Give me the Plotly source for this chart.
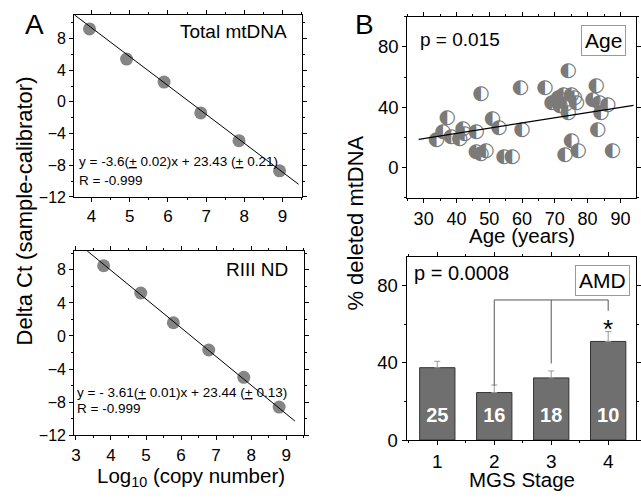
import plotly.graph_objects as go

W, H = 641, 500
FONT = "Liberation Sans, Arial, sans-serif"

# ---- Panel A top: Total mtDNA standard curve
a1_logcopy = [3.95, 4.92, 5.90, 6.86, 7.86, 8.92]
a1_delta = [9.2, 5.4, 2.5, -1.4, -4.9, -8.7]
a1_fit_x = [3.55, 9.42]
a1_fit_y = [11.0, -10.4]

# ---- Panel A bottom: RIII ND standard curve
a2_logcopy = [3.79, 4.85, 5.78, 6.79, 7.79, 8.80]
a2_delta = [8.5, 5.2, 1.6, -1.7, -5.0, -8.6]
a2_fit_x = [3.32, 9.25]
a2_fit_y = [10.3, -10.3]

# ---- Panel B top: % deleted mtDNA vs age
age = [33.9, 35.9, 37.2, 38.4, 41.0, 42.0, 42.5, 46.0, 47.5, 46.0, 47.5, 49.0,
       51.0, 53.0, 54.5, 57.0, 59.5, 60.0, 67.0, 74.1, 69.1, 71.1, 72.6, 75.1,
       76.6, 74.1, 71.6, 70.5, 73.5, 76.0, 75.1, 73.1, 77.1, 82.6, 81.6, 83.6,
       86.1, 84.1, 83.1, 87.6]
deleted = [18.6, 23.4, 33.1, 20.1, 19.0, 25.5, 22.3, 23.4, 48.5, 10.4, 9.0, 10.8,
           32.0, 26.6, 7.1, 7.1, 52.6, 25.1, 52.6, 64.0, 42.9, 46.1, 48.2, 48.2,
           42.9, 36.4, 40.7, 44.0, 42.0, 46.0, 18.0, 8.2, 10.8, 54.4, 45.0, 42.9,
           41.8, 36.4, 24.9, 10.8]
age_fit_x = [28.5, 94.0]
age_fit_y = [18.8, 41.3]

# ---- Panel B bottom: AMD stage bars
stage = [1, 2, 3, 4]
stage_mean = [37.5, 24.6, 32.2, 51.1]
stage_err = [3.3, 3.9, 3.6, 5.1]
stage_n = ["25", "16", "18", "10"]
bracket_x = [2, 2, 4, 4]
bracket_y = [28.2, 72.6, 72.6, 67.0]
bracket_mid_x = [3, 3]
bracket_mid_y = [39.7, 72.6]

fig = go.Figure()

dot = dict(size=13, color="#858585")
fig.add_trace(go.Scatter(x=a1_logcopy, y=a1_delta, mode="markers", marker=dot,
                         xaxis="x", yaxis="y", showlegend=False))
fig.add_trace(go.Scatter(x=a1_fit_x, y=a1_fit_y, mode="lines",
                         line=dict(color="black", width=1), xaxis="x", yaxis="y",
                         showlegend=False))
fig.add_trace(go.Scatter(x=a2_logcopy, y=a2_delta, mode="markers", marker=dot,
                         xaxis="x2", yaxis="y2", showlegend=False))
fig.add_trace(go.Scatter(x=a2_fit_x, y=a2_fit_y, mode="lines",
                         line=dict(color="black", width=1), xaxis="x2", yaxis="y2",
                         showlegend=False))

# half-filled circle markers via glyph
fig.add_trace(go.Scatter(x=age, y=deleted, mode="text", text=["\u25D0"] * len(age),
                         textfont=dict(family="DejaVu Sans", size=20, color="#7a7a7a"),
                         textposition="middle center",
                         xaxis="x3", yaxis="y3", showlegend=False))
fig.add_trace(go.Scatter(x=age_fit_x, y=age_fit_y, mode="lines",
                         line=dict(color="black", width=1.3), xaxis="x3", yaxis="y3",
                         showlegend=False))

fig.add_trace(go.Bar(x=stage, y=stage_mean, width=0.62,
                     marker=dict(color="#6f6f6f", line=dict(color="#333333", width=1)),
                     error_y=dict(type="data", array=stage_err, symmetric=False,
                                  arrayminus=[0] * len(stage_err), color="#999999",
                                  thickness=1, width=3),
                     xaxis="x4", yaxis="y4", showlegend=False))
fig.add_trace(go.Scatter(x=stage, y=[12] * len(stage), mode="text", text=stage_n,
                         textfont=dict(family=FONT, size=20, color="white", weight="bold"),
                         xaxis="x4", yaxis="y4", showlegend=False))
fig.add_trace(go.Scatter(x=bracket_x, y=bracket_y, mode="lines",
                         line=dict(color="#555555", width=1), xaxis="x4", yaxis="y4",
                         showlegend=False))
fig.add_trace(go.Scatter(x=bracket_mid_x, y=bracket_mid_y, mode="lines",
                         line=dict(color="#555555", width=1), xaxis="x4", yaxis="y4",
                         showlegend=False))
fig.add_trace(go.Scatter(x=[4], y=[56], mode="text", text=["*"],
                         textfont=dict(family=FONT, size=26, color="black"),
                         xaxis="x4", yaxis="y4", showlegend=False))


def ax(domain, rng, anchor, tickvals, minor_dtick, fs):
    return dict(domain=domain, range=rng, anchor=anchor, tickvals=tickvals,
                showline=True, linecolor="black", linewidth=1, mirror="ticks",
                ticks="outside", ticklen=4, tickcolor="black", showgrid=False,
                zeroline=False, tickfont=dict(family=FONT, size=fs, color="black"),
                minor=dict(dtick=minor_dtick, ticks="outside", ticklen=2,
                           tickcolor="black"),
                fixedrange=True)


def px(x):
    return x / W


def py(y):
    return 1 - y / H


fig.update_layout(
    width=W, height=H, margin=dict(l=0, r=0, t=0, b=0),
    paper_bgcolor="white", plot_bgcolor="white",
    xaxis=ax([px(72), px(302)], [3.55, 9.5], "y", [4, 5, 6, 7, 8, 9], 0.5, 17),
    yaxis=ax([py(201), py(15)], [-12, 11], "x", [-12, -8, -4, 0, 4, 8], 2, 16),
    xaxis2=ax([px(72), px(304)], [2.95, 9.5], "y2", [3, 4, 5, 6, 7, 8, 9], 0.5, 17),
    yaxis2=ax([py(444), py(256)], [-12, 10.3], "x2", [-12, -8, -4, 0, 4, 8], 2, 16),
    xaxis3=ax([px(408.7), px(639.5)], [25, 94.6], "y3", [30, 40, 50, 60, 70, 80, 90], 5, 18),
    yaxis3=ax([py(202), py(17)], [-20, 100], "x3", [0, 40, 80], 20, 18.5),
    xaxis4=ax([px(408), px(639.5)], [0.46, 4.48], "y4", [1, 2, 3, 4], 0.5, 19),
    yaxis4=ax([py(449), py(262)], [0, 95], "x4", [0, 40, 80], 20, 18.5),
    bargap=0.3,
)

ann = []


def text(x, y, s, size, xanchor="center", yanchor="middle", angle=0, **kw):
    ann.append(dict(x=px(x), y=py(y), xref="paper", yref="paper", text=s,
                    showarrow=False, xanchor=xanchor, yanchor=yanchor,
                    textangle=angle, font=dict(family=FONT, size=size, color="black"),
                    **kw))


text(32, 25, "A", 28)
text(365, 25, "B", 28)
text(289, 32, "Total mtDNA", 19, xanchor="right")
text(75, 164.5, "y = -3.6(<u>+</u> 0.02)x + 23.43 (<u>+</u> 0.21)", 13.5, xanchor="left")
text(75, 184.5, "R = -0.999", 13.5, xanchor="left")
text(290, 275.5, "RIII ND", 19, xanchor="right")
text(73, 400.5, "y = - 3.61(<u>+</u> 0.01)x + 23.44 (<u>+</u> 0.13)", 13.5, xanchor="left")
text(73, 417, "R = -0.999", 13.5, xanchor="left")
text(22, 215, "Delta Ct (sample-calibrator)", 22, angle=-90)
text(190, 487, "Log<sub>10</sub> (copy number)", 20.5)
text(356, 228, "% deleted mtDNA", 22, angle=-90)
text(525, 240, "Age (years)", 20.5)
text(525, 489, "MGS Stage", 20.5)
text(420, 40, "p = 0.015", 19, xanchor="left")
text(414, 279, "p = 0.0008", 20, xanchor="left")
text(607, 41, "Age", 21, bordercolor="#9a9a9a", borderwidth=1, borderpad=3)
text(606, 286, "AMD", 21, bordercolor="#9a9a9a", borderwidth=1, borderpad=3)
fig.update_layout(annotations=ann)

fig.write_html("out.html")
